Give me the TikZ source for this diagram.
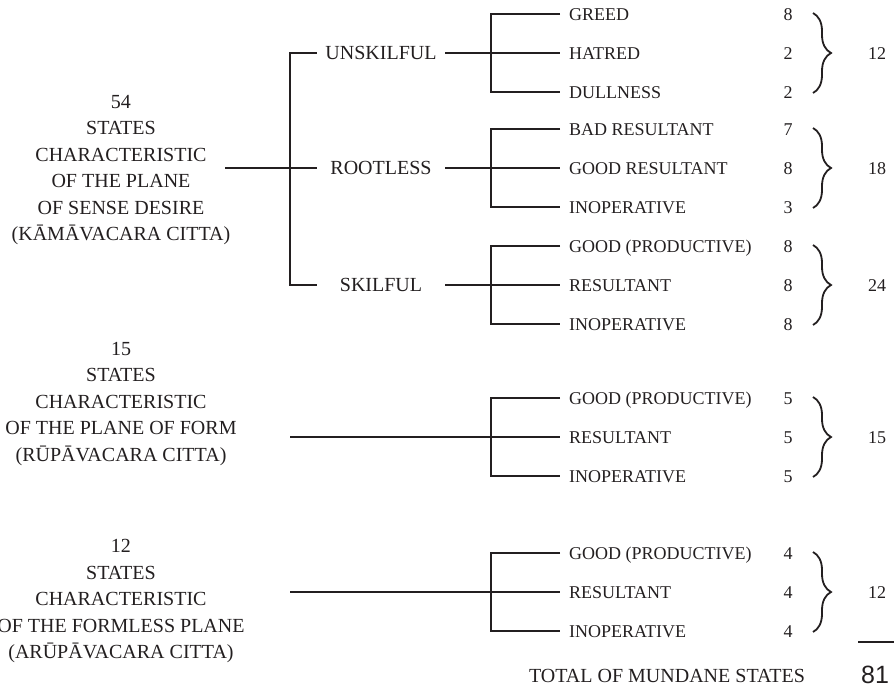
\documentclass[tikz,border=0pt]{standalone}
\usepackage{fontspec}
\setmainfont{Liberation Serif}
\setsansfont{Liberation Sans}
\usetikzlibrary{decorations.pathreplacing}
\definecolor{ink}{HTML}{231F20}

\tikzset{
  plane/.style={align=center,text=ink,font=\fontsize{20}{26.5}\selectfont},
  branch/.style={text=ink,font=\fontsize{20}{24}\selectfont,minimum width=128pt,
    inner xsep=0pt,inner ysep=0pt,text height=13pt,text depth=0pt},
  leaf/.style={anchor=west,text=ink,font=\fontsize{18}{22}\selectfont,
    inner xsep=9pt,inner ysep=0pt,text height=12pt,text depth=0pt},
  num/.style={text=ink,font=\fontsize{18}{22}\selectfont,inner sep=0pt,
    text height=12pt,text depth=0pt},
  wire/.style={draw=ink,line width=2.4pt},
  curly/.style={draw=ink,line width=1.8pt,decorate,decoration={brace,amplitude=18pt}}
}

\begin{document}
\begin{tikzpicture}[x=1pt,y=-1pt]
  \useasboundingbox (0,0) rectangle (894,689);

  % the three planes
  \node[plane] (kama) at (121,170) {54\\STATES\\CHARACTERISTIC\\OF THE PLANE\\OF SENSE DESIRE\\(KĀMĀVACARA CITTA)};
  \node[plane] (rupa) at (121,404) {15\\STATES\\CHARACTERISTIC\\OF THE PLANE OF FORM\\(RŪPĀVACARA CITTA)};
  \node[plane] (arupa) at (121,601) {12\\STATES\\CHARACTERISTIC\\OF THE FORMLESS PLANE\\(ARŪPĀVACARA CITTA)};

  % sense desire splits in three
  \node[branch] (unsk) at (381,53) {UNSKILFUL};
  \node[branch] (root) at (381,168) {ROOTLESS};
  \node[branch] (skil) at (381,285) {SKILFUL};
  \coordinate (kama-in) at (225,168);
  \coordinate (kama-f) at (290,168);
  \draw[wire] (unsk.west) -| (kama-f) |- (skil.west);
  \draw[wire] (kama-in) -- (root.west);

  \coordinate (rupa-in) at (290,437);
  \coordinate (arupa-in) at (290,592);

  % leaves, counts and sums
  \foreach \g/\c/\src/\la/\lb/\lc/\na/\nb/\nc/\t in {
    unsk/53/unsk.east/GREED/HATRED/DULLNESS/8/2/2/12,
    root/168/root.east/BAD RESULTANT/GOOD RESULTANT/INOPERATIVE/7/8/3/18,
    skil/285/skil.east/GOOD (PRODUCTIVE)/RESULTANT/INOPERATIVE/8/8/8/24,
    rupa/437/rupa-in/GOOD (PRODUCTIVE)/RESULTANT/INOPERATIVE/5/5/5/15,
    arupa/592/arupa-in/GOOD (PRODUCTIVE)/RESULTANT/INOPERATIVE/4/4/4/12}
  {
    \node[leaf] (\g-a) at (560,\c-39) {\la};
    \node[leaf] (\g-b) at (560,\c) {\lb};
    \node[leaf] (\g-c) at (560,\c+39) {\lc};
    \coordinate (\g-f) at (491,\c);
    \draw[wire] (\g-a.west) -| (\g-f) |- (\g-c.west);
    \draw[wire] (\src) -- (\g-b.west);
    \node[num] (\g-na) at (788,\c-39) {\na};
    \node[num] (\g-nb) at (788,\c) {\nb};
    \node[num] (\g-nc) at (788,\c+39) {\nc};
    \coordinate (\g-top) at (813,\c-40);
    \coordinate (\g-bot) at (813,\c+40);
    \draw[curly] (\g-top) -- (\g-bot);
    \node[num] (\g-sum) at (877,\c) {\t};
  }

  % grand total
  \coordinate (rule-a) at (858,642);
  \coordinate (rule-b) at (894,642);
  \draw[draw=ink,line width=2pt] (rule-a) -- (rule-b);
  \node[text=ink,font=\fontsize{20}{24}\selectfont] (total) at (667,676) {TOTAL OF MUNDANE STATES};
  \node[text=ink,font=\sffamily\fontsize{25}{28}\selectfont] (grand) at (875,675) {81};
\end{tikzpicture}
\end{document}
